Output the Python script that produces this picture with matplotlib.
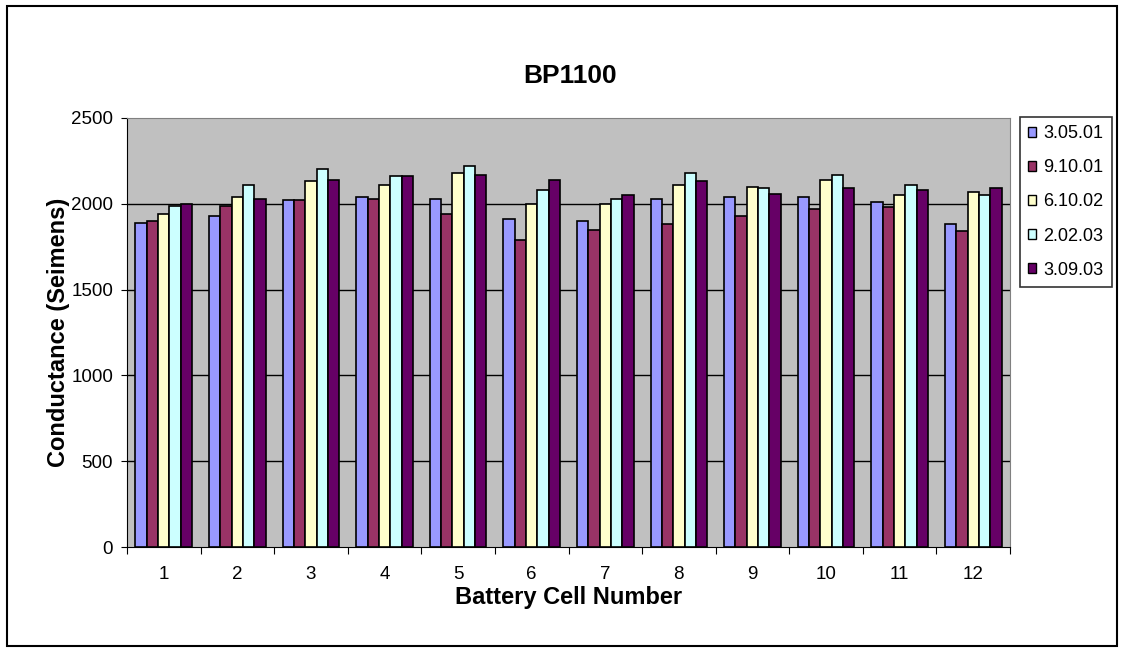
import numpy as np
import matplotlib.pyplot as plt
from matplotlib.patches import Rectangle

plt.rcParams['font.family'] = ['Liberation Sans', 'DejaVu Sans']

cells = [str(i) for i in range(1, 13)]
dates = ['3.05.01', '9.10.01', '6.10.02', '2.02.03', '3.09.03']
s_30501 = [1890, 1930, 2020, 2040, 2030, 1910, 1900, 2030, 2040, 2040, 2010, 1880]
s_91001 = [1900, 1990, 2020, 2030, 1940, 1790, 1850, 1880, 1930, 1970, 1980, 1840]
s_61002 = [1940, 2040, 2130, 2110, 2180, 2000, 2000, 2110, 2100, 2140, 2050, 2070]
s_20203 = [1990, 2110, 2200, 2160, 2220, 2080, 2030, 2180, 2090, 2170, 2110, 2050]
s_30903 = [2000, 2030, 2140, 2160, 2170, 2140, 2050, 2130, 2060, 2090, 2080, 2090]
series = [s_30501, s_91001, s_61002, s_20203, s_30903]
colors = ['#9999FF', '#993366', '#FFFFCC', '#CCFFFF', '#660066']

fig = plt.figure(figsize=(11.24, 6.52), dpi=100)
ax = fig.add_axes([127/1124, 1-547/652, 883/1124, 429/652])
ax.set_facecolor('#C0C0C0')

x = np.arange(1, len(cells) + 1)
n = len(series)
w = 1 / (n + 1.5)
for i, (vals, c, lab) in enumerate(zip(series, colors, dates)):
    ax.bar(x + (i - (n - 1) / 2) * w, vals, w, color=c, edgecolor='black',
           linewidth=1.2, label=lab, zorder=3)

ax.set_xlim(0.5, 12.5)
ax.set_ylim(0, 2500)
ax.set_yticks(np.arange(0, 2501, 500))
for yv in range(500, 2001, 500):
    ax.axhline(yv, color='black', lw=1, zorder=1)

# group boundaries get the tick marks, group centres get the labels
ax.set_xticks(np.arange(0.5, 12.6, 1))
ax.set_xticklabels([])
ax.set_xticks(x, minor=True)
ax.set_xticklabels(cells, minor=True)
ax.tick_params(axis='x', which='major', length=5, direction='out', color='black')
ax.tick_params(axis='x', which='minor', length=0, pad=14, labelsize=13.5)
ax.tick_params(axis='y', length=4, direction='out', labelsize=13.5, pad=6)

for s in ['top', 'right']:
    ax.spines[s].set_color('#808080')
for s in ['left', 'bottom']:
    ax.spines[s].set_color('black')

ax.set_xlabel('Battery Cell Number', fontsize=17, fontweight='bold', labelpad=2)
ax.set_ylabel('Conductance (Seimens)', fontsize=17, fontweight='bold', labelpad=1)
fig.text(570/1124, 1-76/652, 'BP1100', fontsize=19, fontweight='bold',
         ha='center', va='center')

leg = fig.legend(loc='upper left', bbox_to_anchor=(1020/1124, 1-117/652),
                 frameon=True, fancybox=False, edgecolor='black', fontsize=13,
                 handlelength=0.45, handleheight=0.45, handletextpad=0.4,
                 labelspacing=0.95, borderpad=0.45, borderaxespad=0)
leg.get_frame().set_linewidth(1.2)
for h in leg.legend_handles:
    h.set_linewidth(1)

fig.patches.append(Rectangle((7/1124, 6/652), 1110/1124, 640/652, transform=fig.transFigure,
                             fill=False, edgecolor='black', lw=1.5))

fig.savefig('out.png', dpi=100)
